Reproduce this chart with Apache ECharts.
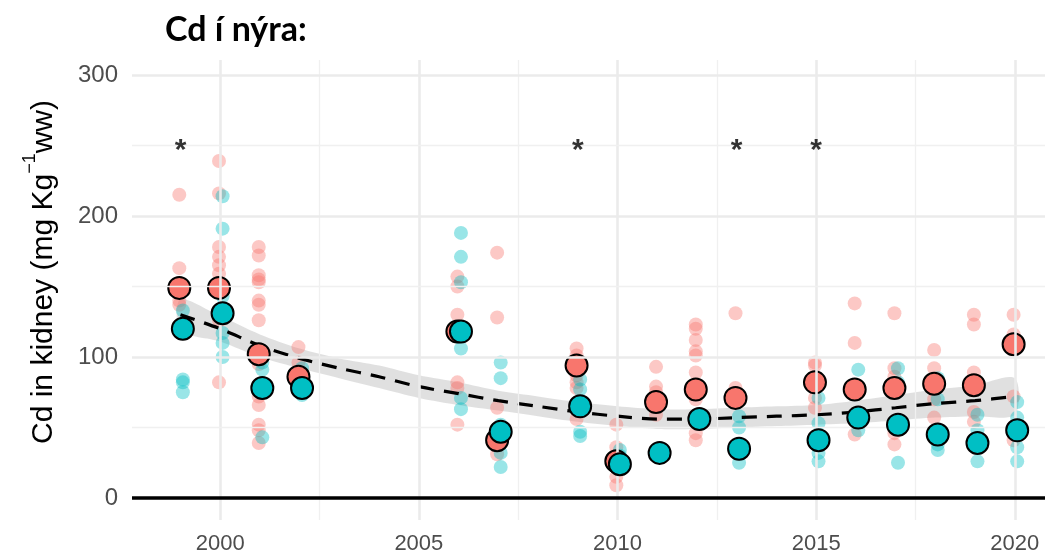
<!DOCTYPE html>
<html>
<head>
<meta charset="utf-8">
<title>Cd í nýra</title>
<script src="https://cdn.jsdelivr.net/npm/echarts@6/dist/echarts.min.js"></script>
<style>
    html, body { margin: 0; padding: 0; background: #fff; }
    #chart { width: 1050px; height: 556px; }
</style>
</head>
<body>
<div id="chart"></div>
<script>
// individual samples, [year, value]
var redSamples = [
    [1999, 215], [1999, 163], [1999, 140], [1999, 137],
    [2000, 239], [2000, 216], [2000, 178], [2000, 171], [2000, 165], [2000, 159], [2000, 126], [2000, 82],
    [2001, 178], [2001, 172], [2001, 158], [2001, 155], [2001, 153], [2001, 140], [2001, 137], [2001, 126],
    [2001, 105], [2001, 95], [2001, 80], [2001, 72], [2001, 66], [2001, 52], [2001, 48], [2001, 39],
    [2002, 107], [2002, 96],
    [2006, 157], [2006, 150], [2006, 130], [2006, 120], [2006, 82], [2006, 78], [2006, 52],
    [2007, 174], [2007, 128], [2007, 64], [2007, 31],
    [2009, 106], [2009, 101], [2009, 98], [2009, 87], [2009, 82], [2009, 78], [2009, 56],
    [2010, 52], [2010, 36], [2010, 30], [2010, 15], [2010, 9],
    [2011, 93], [2011, 79], [2011, 75], [2011, 59],
    [2012, 123], [2012, 120], [2012, 112], [2012, 104], [2012, 101], [2012, 89], [2012, 70], [2012, 46], [2012, 41],
    [2013, 131], [2013, 78], [2013, 36],
    [2015, 96], [2015, 94], [2015, 71], [2015, 64],
    [2016, 138], [2016, 110], [2016, 45],
    [2017, 131], [2017, 92], [2017, 86], [2017, 46], [2017, 38],
    [2018, 105], [2018, 92], [2018, 70], [2018, 57],
    [2019, 130], [2019, 123], [2019, 89], [2019, 61], [2019, 54],
    [2020, 130], [2020, 116], [2020, 72], [2020, 41]
];
var tealSamples = [
    [1999, 133], [1999, 84], [1999, 82], [1999, 75],
    [2000, 214], [2000, 191], [2000, 143], [2000, 117], [2000, 110], [2000, 100],
    [2001, 96], [2001, 91], [2001, 43],
    [2002, 92], [2002, 73],
    [2006, 188], [2006, 171], [2006, 153], [2006, 106], [2006, 71], [2006, 63],
    [2007, 96], [2007, 85], [2007, 52], [2007, 32], [2007, 22],
    [2009, 84], [2009, 77], [2009, 62], [2009, 47], [2009, 44],
    [2010, 34], [2010, 30],
    [2013, 58], [2013, 50], [2013, 25],
    [2015, 71], [2015, 53], [2015, 43], [2015, 32], [2015, 26],
    [2016, 91], [2016, 60], [2016, 48],
    [2017, 92], [2017, 82], [2017, 25],
    [2018, 85], [2018, 70], [2018, 38], [2018, 34],
    [2019, 59], [2019, 48], [2019, 26],
    [2020, 68], [2020, 57], [2020, 36], [2020, 26]
];

// yearly means
var meanYears = [1999, 2000, 2001, 2002, 2006, 2007, 2009, 2010, 2011, 2012, 2013, 2015, 2016, 2017, 2018, 2019, 2020];
var redMeans  = [149, 149, 102, 86, 118, 41, 94, 26, 68, 77, 71, 82, 77, 78, 81, 80, 109];
var tealMeans = [120, 131, 78, 78, 118, 47, 65, 24, 32, 56, 35, 41, 57, 52, 45, 39, 48];

// smoother and its confidence band
var smoothYears = [1999, 2000, 2001, 2002, 2003, 2004, 2005, 2006, 2007, 2008, 2009, 2010, 2011, 2012, 2013, 2014, 2015, 2016, 2017, 2018, 2019, 2020];
var smoothFit   = [130, 120, 108, 99, 92, 86, 79, 74, 69, 65, 61, 58, 56, 56, 57, 58, 59, 61, 64, 67, 69, 72];
var smoothLower = [119, 111, 100, 92, 85, 78, 71, 66, 62, 58, 54, 51, 49, 49, 50, 51, 52, 53, 55, 57, 58, 59];
var smoothUpper = [141, 129, 116, 106, 99, 94, 87, 82, 76, 72, 68, 65, 63, 63, 64, 65, 66, 69, 73, 77, 80, 85];

// significance marks
var starYears = [1999, 2009, 2013, 2015];
var starLevel = 246;

var xTicks = [2000, 2005, 2010, 2015, 2020];
var xMinor = [2002.5, 2007.5, 2012.5, 2017.5];
var yTicks = [0, 100, 200, 300];
var yMinor = [50, 150, 250];

var RED = '#F8766D';
var TEAL = '#00BFC4';
var RED_DX = -0.03;
var TEAL_DX = 0.06;

function shift(points, dx) {
    return points.map(function (p) { return [p[0] + dx, p[1]]; });
}
function zip(xs, ys, dx) {
    return xs.map(function (x, i) { return [x + (dx || 0), ys[i]]; });
}

var gridLines = [];
xTicks.forEach(function (v) {
    gridLines.push({ xAxis: v, lineStyle: { color: '#ebebeb', width: 2.6, type: 'solid' } });
});
xMinor.forEach(function (v) {
    gridLines.push({ xAxis: v, lineStyle: { color: '#f0f0f0', width: 1.3, type: 'solid' } });
});
yTicks.slice(1).forEach(function (v) {
    gridLines.push({ yAxis: v, lineStyle: { color: '#ebebeb', width: 2.6, type: 'solid' } });
});
yMinor.forEach(function (v) {
    gridLines.push({ yAxis: v, lineStyle: { color: '#f0f0f0', width: 1.3, type: 'solid' } });
});

var labelFont = '"Liberation Sans", Arial, sans-serif';

var chart = echarts.init(document.getElementById('chart'), null, { renderer: 'canvas' });

chart.setOption({
    animation: false,
    backgroundColor: '#fff',
    title: {
        text: 'Cd í nýra:',
        left: 160,
        top: 8,
        textStyle: {
            fontFamily: 'Lato, "Open Sans", sans-serif',
            fontWeight: 'bold',
            fontSize: 34,
            color: '#000'
        }
    },
    grid: { left: 132, right: 5, top: 60, bottom: 36 },
    xAxis: {
        type: 'value',
        min: 1997.78,
        max: 2020.76,
        axisLine: { show: false },
        axisTick: { show: false },
        splitLine: { show: false },
        axisLabel: {
            customValues: xTicks,
            formatter: function (v) { return String(v); },
            margin: 13,
            color: '#4d4d4d',
            fontSize: 22,
            fontFamily: labelFont
        }
    },
    yAxis: {
        type: 'value',
        min: -15.6,
        max: 310.6,
        axisLine: { show: false },
        axisTick: { show: false },
        splitLine: { show: false },
        axisLabel: {
            customValues: yTicks,
            margin: 14,
            color: '#4d4d4d',
            fontSize: 24,
            fontFamily: labelFont
        }
    },
    graphic: [{
        type: 'text',
        x: 40,
        y: 272,
        rotation: Math.PI / 2,
        style: {
            text: '{a|Cd in kidney (mg Kg}{s|−1}{a|ww)}',
            align: 'center',
            verticalAlign: 'middle',
            fill: '#000',
            rich: {
                a: { fontSize: 30, fontFamily: labelFont, fill: '#000', verticalAlign: 'bottom', lineHeight: 38 },
                s: { fontSize: 18, fontFamily: labelFont, fill: '#000', verticalAlign: 'top', lineHeight: 38 }
            }
        }
    }],
    series: [
        {
            // panel grid lines and zero line
            type: 'line',
            data: [],
            silent: true,
            z: 0,
            markLine: {
                silent: true,
                symbol: ['none', 'none'],
                label: { show: false },
                animation: false,
                data: gridLines.concat([
                    { yAxis: 0, lineStyle: { color: '#000', width: 3.6, type: 'solid' } }
                ])
            }
        },
        {
            // confidence band of the smoother
            type: 'custom',
            z: 1,
            silent: true,
            clip: true,
            data: [0],
            renderItem: function (params, api) {
                var pts = [];
                for (var i = 0; i < smoothYears.length; i++) {
                    pts.push(api.coord([smoothYears[i], smoothUpper[i]]));
                }
                for (var j = smoothYears.length - 1; j >= 0; j--) {
                    pts.push(api.coord([smoothYears[j], smoothLower[j]]));
                }
                return {
                    type: 'polygon',
                    shape: { points: pts, smooth: 0.3 },
                    style: { fill: 'rgba(153,153,153,0.3)' }
                };
            }
        },
        {
            type: 'scatter',
            z: 2,
            silent: true,
            data: shift(redSamples, RED_DX),
            symbolSize: 14,
            itemStyle: { color: RED, opacity: 0.4 }
        },
        {
            type: 'scatter',
            z: 2,
            silent: true,
            data: shift(tealSamples, TEAL_DX),
            symbolSize: 14,
            itemStyle: { color: TEAL, opacity: 0.4 }
        },
        {
            type: 'line',
            z: 3,
            silent: true,
            data: zip(smoothYears, smoothFit),
            smooth: 0.3,
            showSymbol: false,
            lineStyle: { color: '#000', width: 3.2, type: [15, 10] }
        },
        {
            type: 'scatter',
            z: 4,
            silent: true,
            data: zip(meanYears, redMeans, RED_DX),
            symbolSize: 22,
            itemStyle: { color: RED, borderColor: '#000', borderWidth: 2, opacity: 1 }
        },
        {
            type: 'scatter',
            z: 5,
            silent: true,
            data: zip(meanYears, tealMeans, TEAL_DX),
            symbolSize: 22,
            itemStyle: { color: TEAL, borderColor: '#000', borderWidth: 2, opacity: 1 }
        },
        {
            type: 'scatter',
            z: 6,
            silent: true,
            data: starYears.map(function (y) { return [y, starLevel]; }),
            symbolSize: 0,
            label: {
                show: true,
                position: 'inside',
                formatter: '*',
                fontSize: 30,
                fontWeight: 'bold',
                color: '#000',
                fontFamily: labelFont
            }
        }
    ]
});
</script>
</body>
</html>
